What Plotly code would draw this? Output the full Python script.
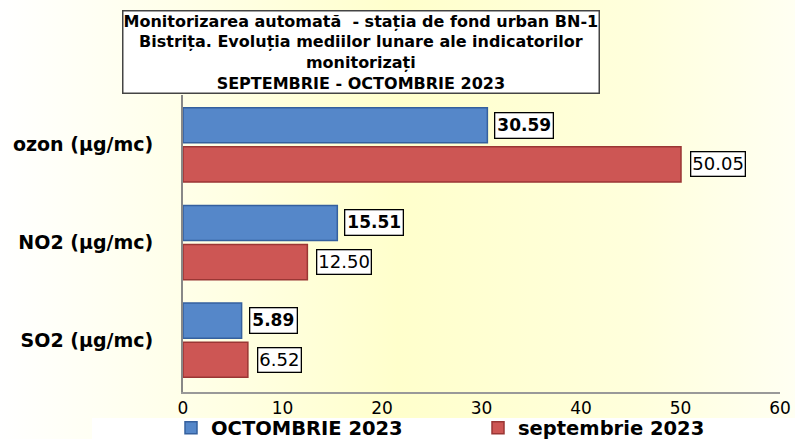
import base64
import plotly.graph_objects as go

categories = ["SO2 (µg/mc)", "NO2 (µg/mc)", "ozon (µg/mc)"]
cat_pos = [0, 1, 2]
octombrie = [5.89, 15.51, 30.59]
septembrie = [6.52, 12.50, 50.05]
series_names = ["OCTOMBRIE 2023", "septembrie 2023"]
x_ticks = [0, 10, 20, 30, 40, 50, 60]

W, H = 795, 439
ML, MR, MT, MB = 183, 15, 95, 47
PW, PH = W - ML - MR, H - MT - MB

FONT = "DejaVu Sans, Liberation Sans, Arial"
BLUE, BLUE_EDGE = "#5587C9", "#35609E"
RED, RED_EDGE = "#CD5654", "#9A3634"
OFF = 0.2
BW = 0.36

fig = go.Figure()
fig.add_trace(go.Bar(
    name=f"<b>{series_names[0]}</b>", y=[p + OFF for p in cat_pos], x=octombrie, orientation="h",
    width=BW, marker=dict(color=BLUE, line=dict(color=BLUE_EDGE, width=1.5)),
))
fig.add_trace(go.Bar(
    name=f"<b>{series_names[1]}</b>", y=[p - OFF for p in cat_pos], x=septembrie, orientation="h",
    width=BW, marker=dict(color=RED, line=dict(color=RED_EDGE, width=1.5)),
))

annotations = []
for p, v in zip(cat_pos, octombrie):
    annotations.append(dict(x=v, y=p + OFF, xref="x", yref="y", text=f"<b>{v:.2f}</b>",
                            showarrow=False, xanchor="left", xshift=7,
                            font=dict(family=FONT, size=17, color="black"),
                            bgcolor="white", bordercolor="black", borderwidth=1.3, borderpad=2))
for p, v in zip(cat_pos, septembrie):
    annotations.append(dict(x=v, y=p - OFF, xref="x", yref="y", text=f"{v:.2f}",
                            showarrow=False, xanchor="left", xshift=9,
                            font=dict(family=FONT, size=18, color="black"),
                            bgcolor="white", bordercolor="black", borderwidth=1.3, borderpad=1))

title_text = ("<b>Monitorizarea automată  - stația de fond urban BN-1<br>"
              "Bistrița. Evoluția mediilor lunare ale indicatorilor<br>"
              "monitorizați<br>SEPTEMBRIE - OCTOMBRIE 2023</b>")
annotations.append(dict(x=(360.5 - ML) / PW, y=(H - MB - 52.5) / PH, xref="paper", yref="paper",
                        text=title_text, showarrow=False, xanchor="center", yanchor="middle",
                        font=dict(family=FONT, size=16, color="black"),
                        bgcolor="white", bordercolor="#444", borderwidth=1.5, borderpad=0))

svg = f"""<svg xmlns='http://www.w3.org/2000/svg' width='{W}' height='{H}'>
<defs><linearGradient id='g' x1='0' y1='0' x2='1' y2='0'>
<stop offset='0' stop-color='#FFFFFF'/>
<stop offset='0.3' stop-color='#FFFFE2'/>
<stop offset='0.5' stop-color='#FFFFCC'/>
<stop offset='0.8' stop-color='#FFFFDC'/>
<stop offset='1' stop-color='#FFFFF2'/>
</linearGradient></defs>
<rect width='{W}' height='{H}' fill='url(#g)'/>
<rect x='92' y='418' width='{W-92}' height='21' fill='white'/>
</svg>"""
src = "data:image/svg+xml;base64," + base64.b64encode(svg.encode()).decode()

fig.update_layout(
    width=W, height=H,
    margin=dict(l=ML, r=MR, t=MT, b=MB, autoexpand=False),
    paper_bgcolor="white", plot_bgcolor="rgba(0,0,0,0)",
    barmode="overlay",
    showlegend=True,
    legend=dict(orientation="h", x=(171 - ML) / PW, xanchor="left", y=-(428 - (H - MB)) / PH,
                yanchor="middle",
                font=dict(family=FONT, size=19.5, color="black"),
                bgcolor="rgba(0,0,0,0)", entrywidth=262, entrywidthmode="pixels",
                traceorder="normal", itemwidth=30, tracegroupgap=0),
    annotations=annotations,
    images=[dict(source=src, xref="paper", yref="paper", x=-ML / PW, y=1 + MT / PH,
                 sizex=W / PW, sizey=H / PH, sizing="stretch", layer="below",
                 xanchor="left", yanchor="top")],
    xaxis=dict(range=[0, 60], tickvals=x_ticks, showgrid=False, zeroline=False,
               showline=True, linecolor="#999", linewidth=2, ticks="",
               tickfont=dict(family=FONT, size=17, color="black")),
    yaxis=dict(range=[-0.53, 2.51], tickvals=cat_pos, ticktext=[f"<b>{c}</b>" for c in categories],
               showgrid=False, zeroline=False, showline=True, linecolor="#888", linewidth=2,
               ticks="", ticklabelstandoff=24,
               tickfont=dict(family=FONT, size=19, color="black")),
)

fig.write_html("out.html", config={"displayModeBar": False},
               post_script="document.body.style.margin='0';")
